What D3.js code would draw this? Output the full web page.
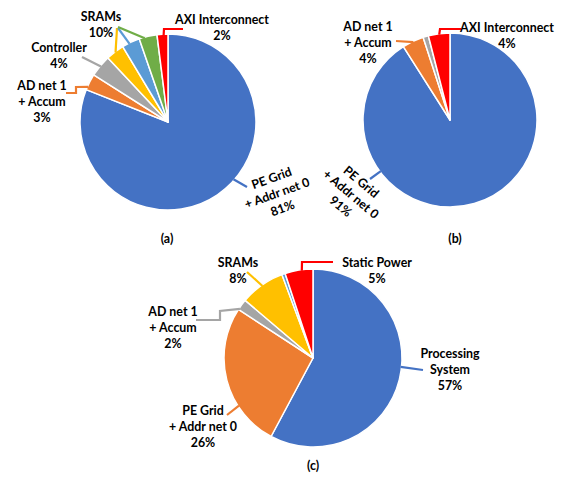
<!DOCTYPE html>
<html>
<head>
<meta charset="utf-8">
<script src="https://cdn.jsdelivr.net/npm/d3@7"></script>
<style>
  html, body { margin: 0; padding: 0; background: #fff; }
  svg { display: block; font-family: Lato, "Open Sans", sans-serif; font-weight: 700; }
</style>
</head>
<body>
<svg id="chart" width="566" height="478"></svg>
<script>
// ---- (a) power breakdown, percent ----
const namesA  = ["PE Grid + Addr net 0", "AD net 1 + Accum", "Controller", "SRAM 0", "SRAM 1", "SRAM 2", "AXI Interconnect"];
const valuesA = [81, 3, 4, 3.4, 3.3, 3.3, 2];

// ---- (b) power breakdown, percent ----
const namesB  = ["PE Grid + Addr net 0", "AD net 1 + Accum", "Controller", "AXI Interconnect"];
const valuesB = [91, 4, 1, 4];

// ---- (c) power breakdown, percent ----
const namesC  = ["Processing System", "PE Grid + Addr net 0", "AD net 1 + Accum", "SRAMs", "Other", "Static Power"];
const valuesC = [57, 26, 2, 8, 0.6, 5];

const captions = ["(a)", "(b)", "(c)"];

const palette = {
  blue: "#4472C4", orange: "#ED7D31", gray: "#A5A5A5", yellow: "#FFC000",
  lightblue: "#5B9BD5", green: "#70AD47", red: "#FF0000"
};

const svg = d3.select("#chart");

// Layout of each pie and its call-out labels
const pies = [
  {
    names: namesA, values: valuesA, cx: 168, cy: 122, r: 88,
    colors: ["blue", "orange", "gray", "yellow", "lightblue", "green", "red"],
    caption: { text: captions[0], x: 167, y: 238 },
    labels: [
      { slices: [0], lines: ["PE Grid", "+ Addr net 0"], x: 277, y: 193, rotate: -20,
        leaders: [{ slice: 0, at: 0.45, pts: [[247, 187]] }] },
      { slices: [1], lines: ["AD net 1", "+ Accum"], x: 42, y: 101,
        leaders: [{ slice: 1, at: 0.2, pts: [[76, 87], [76, 93], [66, 93]] }] },
      { slices: [2], lines: ["Controller"], x: 59, y: 55,
        leaders: [{ slice: 2, at: 0.5, pts: [[82, 57]] }] },
      { slices: [3, 4, 5], lines: ["SRAMs"], x: 101, y: 24,
        leaders: [
          { slice: 3, at: 0.5, pts: [[117, 28]] },
          { slice: 4, at: 0.4, pts: [[118, 28]] },
          { slice: 5, at: 0.3, pts: [[118, 27]] }
        ] },
      { slices: [6], lines: ["AXI Interconnect"], x: 222, y: 27,
        leaders: [{ slice: 6, at: 0.6, pts: [[164, 29], [183, 29]] }] }
    ]
  },
  {
    names: namesB, values: valuesB, cx: 450, cy: 120, r: 87,
    colors: ["blue", "orange", "gray", "red"],
    caption: { text: captions[1], x: 455, y: 238 },
    labels: [
      { slices: [0], lines: ["PE Grid", "+ Addr net 0"], x: 351, y: 194, rotate: 40,
        leaders: [{ slice: 0, at: 0.713, pts: [[370, 179]] }] },
      { slices: [1], lines: ["AD net 1", "+ Accum"], x: 368, y: 42,
        leaders: [{ slice: 1, at: 0.5, pts: [[396, 41]] }] },
      { slices: [3], lines: ["AXI Interconnect"], x: 507, y: 35,
        leaders: [{ slice: 3, at: 0.5, pts: [[440, 29], [461, 29]] }] }
    ]
  },
  {
    names: namesC, values: valuesC, cx: 313, cy: 358, r: 89,
    colors: ["blue", "orange", "gray", "yellow", "lightblue", "red"],
    caption: { text: captions[2], x: 313, y: 465 },
    labels: [
      { slices: [0], lines: ["Processing", "System"], x: 450, y: 369,
        leaders: [{ slice: 0, at: 0.46, pts: [[423, 370]] }] },
      { slices: [1], lines: ["PE Grid", "+ Addr net 0"], x: 203, y: 426,
        leaders: [{ slice: 1, at: 0.307, pts: [[227, 415]] }] },
      { slices: [2], lines: ["AD net 1", "+ Accum"], x: 173, y: 327,
        leaders: [{ slice: 2, at: 0.12, pts: [[220, 311], [220, 320], [196, 320]] }] },
      { slices: [3], lines: ["SRAMs"], x: 238, y: 270,
        leaders: [{ slice: 3, at: 0.5, pts: [[247, 272]] }] },
      { slices: [5], lines: ["Static Power"], x: 377, y: 270,
        leaders: [{ slice: 5, at: 0.6, pts: [[302, 262], [333, 262]] }] }
    ]
  }
];

const lineH = 16;

pies.forEach(p => {
  const arcs = d3.pie().sort(null).value(d => d)(p.values);
  const arc = d3.arc().innerRadius(0).outerRadius(p.r);

  const g = svg.append("g").attr("transform", `translate(${p.cx},${p.cy})`);
  g.selectAll("path.slice")
    .data(arcs)
    .join("path")
    .attr("class", "slice")
    .attr("d", arc)
    .attr("fill", (d, i) => palette[p.colors[i]])
    .attr("stroke", "#fff")
    .attr("stroke-width", 1.5)
    .attr("stroke-linejoin", "round");

  // Leader lines: start on the slice's outer edge, then follow elbow points
  p.labels.forEach(lab => {
    lab.leaders.forEach(ld => {
      const a = arcs[ld.slice];
      const ang = a.startAngle + (a.endAngle - a.startAngle) * ld.at;
      const start = [p.cx + Math.sin(ang) * (p.r - 1), p.cy - Math.cos(ang) * (p.r - 1)];
      svg.append("path")
        .attr("d", d3.line()([start, ...ld.pts]))
        .attr("fill", "none")
        .attr("stroke", palette[p.colors[ld.slice]])
        .attr("stroke-width", 2.2)
        .attr("stroke-linejoin", "miter");
    });

    const pct = Math.round(d3.sum(lab.slices, i => p.values[i])) + "%";
    const lines = [...lab.lines, pct];
    const t = svg.append("g")
      .attr("transform", `translate(${lab.x},${lab.y}) rotate(${lab.rotate || 0})`);
    t.selectAll("text")
      .data(lines)
      .join("text")
      .attr("x", 0)
      .attr("y", (d, i) => (i - (lines.length - 1) / 2) * lineH)
      .attr("text-anchor", "middle")
      .attr("dominant-baseline", "central")
      .attr("font-size", 12.4)
      .attr("fill", "#000")
      .text(d => d);
  });

  svg.append("text")
    .attr("x", p.caption.x)
    .attr("y", p.caption.y)
    .attr("text-anchor", "middle")
    .attr("dominant-baseline", "central")
    .attr("font-size", 12.4)
    .attr("fill", "#000")
    .text(p.caption.text);
});
</script>
</body>
</html>
